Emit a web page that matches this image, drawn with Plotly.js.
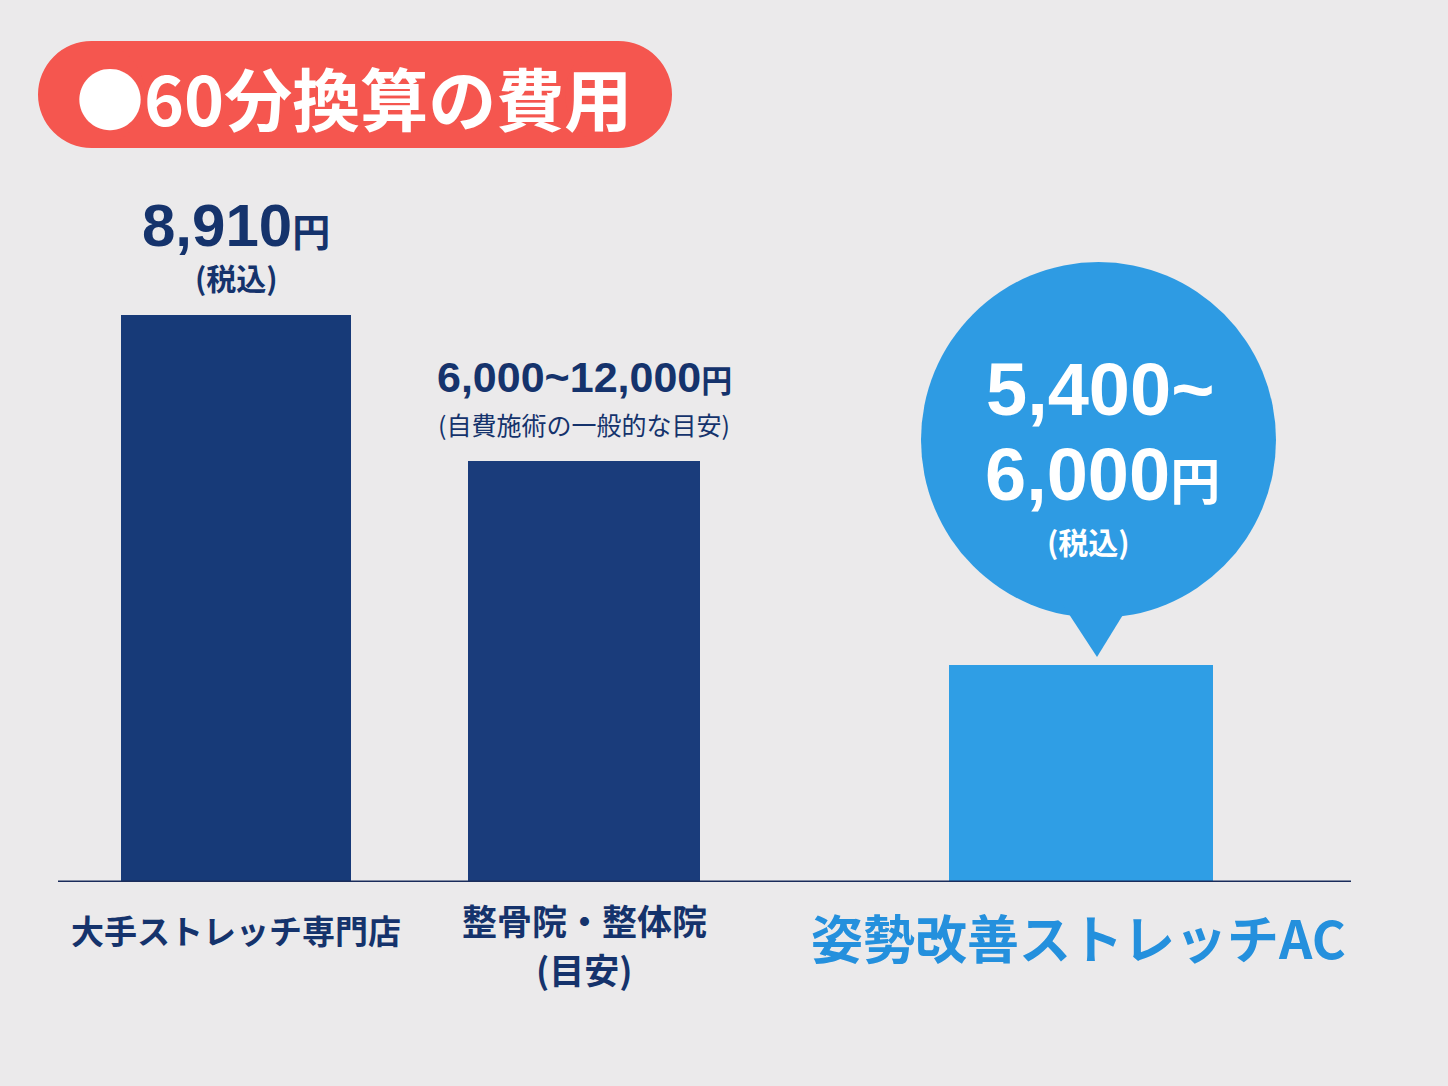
<!DOCTYPE html>
<html>
<head>
<meta charset="utf-8">
<script src="https://cdn.plot.ly/plotly-3.0.1.min.js"></script>
<style>html,body{margin:0;padding:0;background:#ebeaeb;}#chart{width:1448px;height:1086px;}</style>
</head>
<body>
<div id="chart"></div>
<script>
// ---- data ----
const categories = ["大手ストレッチ専門店", "整骨院・整体院<br>(目安)", "姿勢改善ストレッチAC"];
const barHeights = [8910, 6620, 3410];          // visual bar heights
const priceMain  = ["8,910", "6,000~12,000", "5,400~<br>6,000"];
const priceUnit  = "円";
const priceNote  = ["(税込)", "(自費施術の一般的な目安)", "(税込)"];
const titleText  = "●60分換算の費用";

// ---- layout constants ----
const W = 1448, H = 1086;
const plotL = 58, plotR = 1351, baseY = 882, plotTop = 100;
const barCenters = [236, 584, 1081];
const barWidths  = [230, 232, 264];
const yMax = 12288;
const navy = "#15336c", blue = "#2f9ee5", blueText = "#2490dd";
const cjk = "Noto Sans CJK JP, Noto Sans, sans-serif";
const numFont = "Liberation Sans, Arial, sans-serif";
const px = p => p / W, py = p => 1 - p / H;

const trace = {
  type: "bar", x: barCenters, y: barHeights, width: barWidths,
  marker: {color: ["#173a78", "#1a3c7b", blue], line: {width: 0}},
  hoverinfo: "skip"
};

const annotations = [];
// title
annotations.push({xref: "paper", yref: "paper", x: px(354), y: py(96), xanchor: "center", yanchor: "middle",
  text: "<b>" + titleText + "</b>", showarrow: false, font: {family: cjk, size: 68, color: "#ffffff"}});
// bar 1
annotations.push({x: barCenters[0], y: barHeights[0], yshift: 89, xanchor: "center", yanchor: "middle", showarrow: false,
  text: "<b>" + priceMain[0] + '<span style="font-size:38px;font-family:Noto Sans CJK JP">' + priceUnit + "</span></b>",
  font: {family: numFont, size: 60, color: navy}});
annotations.push({x: barCenters[0], y: barHeights[0], yshift: 38, xanchor: "center", yanchor: "middle", showarrow: false,
  text: "<b>" + priceNote[0] + "</b>", font: {family: cjk, size: 30, color: navy}});
// bar 2
annotations.push({x: barCenters[1], y: barHeights[1], yshift: 84, xanchor: "center", yanchor: "middle", showarrow: false,
  text: "<b>" + priceMain[1] + '<span style="font-size:31px;font-family:Noto Sans CJK JP">' + priceUnit + "</span></b>",
  font: {family: numFont, size: 43, color: navy}});
annotations.push({x: barCenters[1], y: barHeights[1], yshift: 37, xanchor: "center", yanchor: "middle", showarrow: false,
  text: priceNote[1], font: {family: cjk, size: 25, color: navy}});
// bar 3 (bubble)
const mainLines = priceMain[2].split("<br>");
annotations.push({x: barCenters[2], y: barHeights[2], xshift: 19, yshift: 275, xanchor: "center", yanchor: "middle", showarrow: false,
  text: "<b>" + mainLines[0] + "</b>", font: {family: numFont, size: 74, color: "#ffffff"}});
annotations.push({x: barCenters[2], y: barHeights[2], xshift: 21, yshift: 190, xanchor: "center", yanchor: "middle", showarrow: false,
  text: "<b>" + mainLines[1] + '<span style="font-size:50px;font-family:Noto Sans CJK JP">' + priceUnit + "</span></b>",
  font: {family: numFont, size: 74, color: "#ffffff"}});
annotations.push({x: barCenters[2], y: barHeights[2], xshift: 7, yshift: 124, xanchor: "center", yanchor: "middle", showarrow: false,
  text: "<b>" + priceNote[2] + "</b>", font: {family: cjk, size: 30, color: "#ffffff"}});
// category labels
annotations.push({x: barCenters[0], yref: "paper", y: py(930), xanchor: "center", yanchor: "middle", showarrow: false,
  text: "<b>" + categories[0] + "</b>", font: {family: cjk, size: 33, color: navy}});
const cat2 = categories[1].split("<br>");
annotations.push({x: barCenters[1], yref: "paper", y: py(920), xanchor: "center", yanchor: "middle", showarrow: false,
  text: "<b>" + cat2[0] + "</b>", font: {family: cjk, size: 35, color: navy}});
annotations.push({x: barCenters[1], yref: "paper", y: py(968), xanchor: "center", yanchor: "middle", showarrow: false,
  text: "<b>" + cat2[1] + "</b>", font: {family: cjk, size: 35, color: navy}});
annotations.push({x: barCenters[2] - 3, yref: "paper", y: py(936), xanchor: "center", yanchor: "middle", showarrow: false,
  text: "<b>" + categories[2] + "</b>", font: {family: cjk, size: 52, color: blueText}});

const red = "#f5564f";
const shapes = [
  // title pill
  {type: "rect", xref: "paper", yref: "paper", x0: px(91), x1: px(619), y0: py(148), y1: py(41), fillcolor: red, line: {width: 0}, layer: "below"},
  {type: "circle", xref: "paper", yref: "paper", x0: px(38), x1: px(145), y0: py(148), y1: py(41), fillcolor: red, line: {width: 0}, layer: "below"},
  {type: "circle", xref: "paper", yref: "paper", x0: px(565), x1: px(672), y0: py(148), y1: py(41), fillcolor: red, line: {width: 0}, layer: "below"},
  // speech bubble above bar 3
  {type: "circle", xref: "x", yref: "y", xsizemode: "pixel", ysizemode: "pixel",
   xanchor: barCenters[2], yanchor: barHeights[2], x0: -160, x1: 195, y0: 47, y1: 403,
   fillcolor: "#2e9be3", line: {width: 0}},
  {type: "path", xref: "x", yref: "y", xsizemode: "pixel", ysizemode: "pixel",
   xanchor: barCenters[2], yanchor: barHeights[2], path: "M -18 60 L 16 8 L 48 60 Z",
   fillcolor: "#2e9be3", line: {width: 0}},
  // baseline
  {type: "line", xref: "x", yref: "y", x0: plotL, x1: plotR, y0: 0, y1: 0, line: {color: "#1a2c5b", width: 3}}
];

const layout = {
  width: W, height: H, margin: {l: 0, r: 0, t: 0, b: 0},
  paper_bgcolor: "#ebeaeb", plot_bgcolor: "rgba(0,0,0,0)",
  showlegend: false, bargap: 0,
  xaxis: {domain: [px(plotL), px(plotR)], range: [plotL, plotR], visible: false, fixedrange: true},
  yaxis: {domain: [(H - baseY) / H, (H - plotTop) / H], range: [0, yMax], visible: false, fixedrange: true},
  annotations: annotations, shapes: shapes
};

Plotly.newPlot("chart", [trace], layout, {staticPlot: true, displayModeBar: false});
</script>
</body>
</html>
